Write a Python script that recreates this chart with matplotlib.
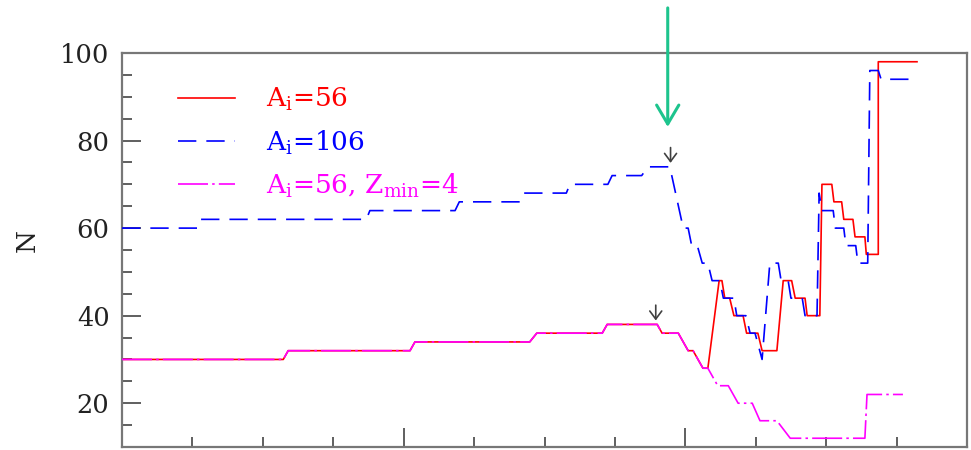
import matplotlib
matplotlib.use("Agg")
import matplotlib.pyplot as plt
from matplotlib.ticker import MultipleLocator

plt.rcParams['font.family'] = ['DejaVu Serif']
plt.rcParams['mathtext.fontset'] = 'dejavuserif'

# common part of the A=56 runs (with and without Z_min cut)
x_common = [0, 2.29, 2.36, 4.09, 4.16, 5.79, 5.89, 6.82, 6.89, 7.60, 7.67, 7.90, 8.04, 8.11, 8.25, 8.32]
n_common = [30, 30, 32, 32, 34, 34, 36, 36, 38, 38, 36, 36, 32, 32, 28, 28]

# A_i = 56
x_a56 = x_common + [8.48, 8.52, 8.56, 8.63, 8.69, 8.82, 8.87, 9.03, 9.09, 9.30, 9.39, 9.51, 9.56, 9.70,
                    9.73, 9.91, 9.94, 10.08, 10.11, 10.22, 10.25, 10.38, 10.41, 10.55, 10.57, 10.74,
                    10.74, 11.29]
n_a56 = n_common + [48, 48, 44, 44, 40, 40, 36, 36, 32, 32, 48, 48, 44, 44,
                    40, 40, 70, 70, 66, 66, 62, 62, 58, 58, 54, 54,
                    98, 98]

# A_i = 106
x_a106 = [0, 1.07, 1.12, 3.47, 3.52, 4.73, 4.79, 5.65, 5.71, 6.31, 6.36, 6.90, 6.96, 7.38, 7.47, 7.78,
          7.97, 8.04, 8.09, 8.17, 8.24, 8.32, 8.38, 8.49, 8.54, 8.69, 8.73, 8.86, 8.92, 8.99, 9.09,
          9.20, 9.32, 9.36, 9.46, 9.50, 9.66, 9.70, 9.87, 9.90, 9.94, 10.10, 10.13, 10.25, 10.28,
          10.42, 10.45, 10.59, 10.62, 10.74, 10.78, 11.29]
n_a106 = [60, 60, 62, 62, 64, 64, 66, 66, 68, 68, 70, 70, 72, 72, 74, 74,
          60, 60, 56, 56, 52, 52, 48, 48, 44, 44, 40, 40, 36, 36, 30,
          52, 52, 48, 48, 44, 44, 40, 40, 68, 64, 64, 60, 60, 56,
          56, 52, 52, 96, 96, 94, 94]

# A_i = 56, Z_min = 4
x_zmin = x_common + [8.46, 8.61, 8.75, 8.95, 9.06, 9.30, 9.49, 10.55, 10.58, 11.09]
n_zmin = n_common + [24, 24, 20, 20, 16, 16, 12, 12, 22, 22]

labels = ['A$_\\mathregular{i}$=56',
          'A$_\\mathregular{i}$=106',
          'A$_\\mathregular{i}$=56, Z$_\\mathregular{min}$=4']

# small arrows above the maxima
peak_marks = [(7.79, 74), (7.58, 38)]

fig = plt.figure(figsize=(9.71, 4.5), dpi=100)
ax = fig.add_axes([122 / 971, 3 / 450, 845 / 971, 394 / 450])

l1, = ax.plot(x_a56, n_a56, color='#ff0000', lw=1.2, zorder=2, label=labels[0])
l2, = ax.plot(x_a106, n_a106, color='#0000ff', lw=1.2, dashes=(11, 6), zorder=3, label=labels[1])
l3, = ax.plot(x_zmin, n_zmin, color='#ff00ff', lw=1.2, dashes=(18, 2.5, 1.5, 2.5), zorder=4, label=labels[2])

ax.set_xlim(0, 12)
ax.set_ylim(10, 100)
ax.set_yticks([20, 40, 60, 80, 100])
ax.yaxis.set_minor_locator(MultipleLocator(5))
ax.xaxis.set_major_locator(MultipleLocator(4))
ax.xaxis.set_minor_locator(MultipleLocator(1))

ax.tick_params(which='both', direction='in', top=False, right=False, color='#444444', width=1.2)
ax.tick_params(which='major', length=14, labelsize=18.5, pad=9, labelcolor='#222222')
ax.tick_params(which='minor', length=7)
ax.tick_params(axis='x', labelbottom=False)

for sp in ax.spines.values():
    sp.set_color('#777777')
    sp.set_linewidth(1.6)

ax.set_ylabel('N', fontsize=19, color='#222222')
ax.yaxis.set_label_coords(-0.097, 0.525)

ax.legend(handles=[l1, l2, l3], loc='upper left', bbox_to_anchor=(0.066, 0.916),
          frameon=False, fontsize=19, handlelength=2.15, handletextpad=1.2,
          labelspacing=0.57, borderpad=0, borderaxespad=0, labelcolor='linecolor')

for px, pn in peak_marks:
    ax.annotate('', xy=(px, pn + 0.9), xytext=(px, pn + 4.4),
                arrowprops=dict(arrowstyle='->,head_length=0.58,head_width=0.43',
                                color='#404040', lw=1.2, mutation_scale=10,
                                shrinkA=0, shrinkB=0))

# big pointer coming down from above the frame
ax.annotate('', xy=(7.75, 83.1), xytext=(7.75, 110.3),
            arrowprops=dict(arrowstyle='->,head_length=0.68,head_width=0.4',
                            color='#1dc48d', lw=2.2, mutation_scale=20,
                            shrinkA=0, shrinkB=0),
            annotation_clip=False)

fig.savefig('out.png', dpi=100)
